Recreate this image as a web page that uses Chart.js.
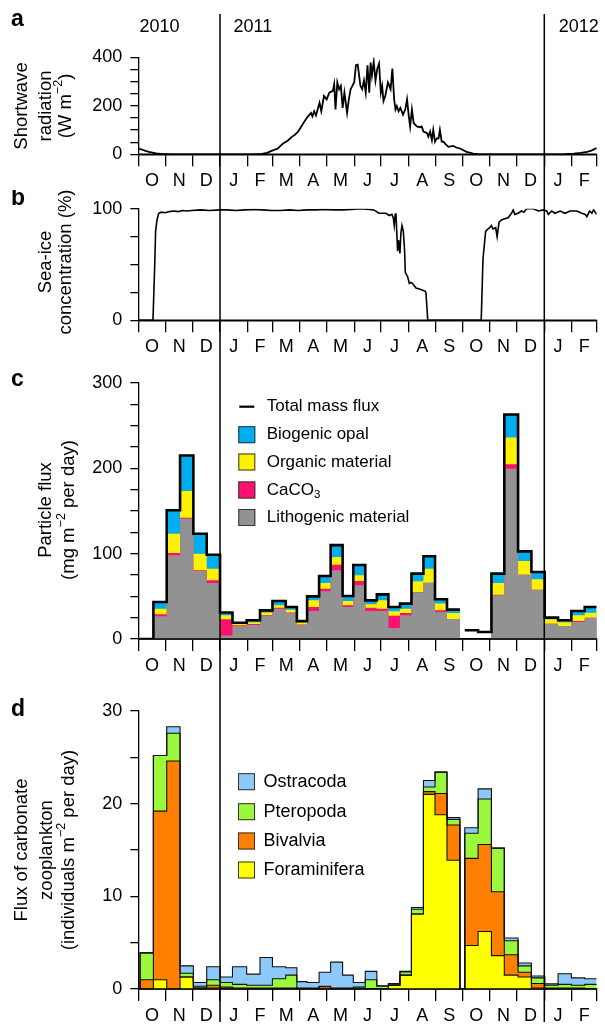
<!DOCTYPE html>
<html><head><meta charset="utf-8">
<script src="https://cdn.jsdelivr.net/npm/chart.js@4.4.1/dist/chart.umd.min.js"></script>
<style>
html,body{margin:0;padding:0;background:#fff;}
#fig{position:relative;width:605px;height:1031px;overflow:hidden;background:#fff;}
canvas{position:absolute;left:0;}
</style></head><body>
<div id="fig">
<canvas id="ca" width="605" height="190" style="top:0px;width:605px;height:190px"></canvas>
<canvas id="cb" width="605" height="170" style="top:190px;width:605px;height:170px"></canvas>
<canvas id="cc" width="605" height="320" style="top:360px;width:605px;height:320px"></canvas>
<canvas id="cd" width="605" height="351" style="top:680px;width:605px;height:351px"></canvas>
</div>
<script>
// ---------------- DATA (x = days since 1 Oct 2010) ----------------
const monthLabels = ['O','N','D','J','F','M','A','M','J','J','A','S','O','N','D','J','F'];
const monthStarts = [0,31,61,92,123,151,182,212,243,273,304,335,365,396,426,457,488,516];
const yearLabels = ['2010','2011','2012'];
const yearLineDays = [92, 457];

const swTicks = [0,50,100,150,200,250,300,350,400];
const swTickLabels = [0,200,400];
const iceTicks = [0,25,50,75,100];
const iceTickLabels = [0,100];
const fluxTicks = [0,25,50,75,100,125,150,175,200,225,250,275,300];
const fluxTickLabels = [0,100,200,300];
const zooTicks = [0,5,10,15,20,25,30];
const zooTickLabels = [0,10,20,30];

// Shortwave radiation (W m-2)
const swDay = [0,2,5,8,12,16,20,25,31,40,130,139,145,150,157,163,168,170,172,176,180,183,187,191,194.5,196,198,200,204,206,209,212,215,219,220.5,222,224,226,228,230,232,235,237,239,243,245,247,250,252,254,256,258,260,261.5,263,265,267,269,271,273,274.5,276,278,281,284,286,288,289.5,291,293,295,298,300.5,302.5,304.5,306,308,310,313.5,317,319,321,325,326.5,328.5,330.5,332,334,336,338,339.5,341.5,343.5,345,349,354.5,358,362,366,369.5,377,384,470,480,490,498,505,510,516];
const swVal = [25,22,18,14,10,7,4,2,1,0,0,2,6,14,24,45,56,62,70,80,94,112,136,157,171,157,178,160,213,178,241,227,255,262,290,185,297,269,283,192,255,171,227,269,297,368,370,283,269,305,255,368,255,379,326,382,305,354,375,255,283,220,241,297,269,354,227,185,199,178,192,164,185,227,157,115,185,129,115,112,115,94,87,73,94,59,101,52,66,66,101,52,52,45,31,35,28,24,17,10,3,0,0,1,3,6,10,15,26];

// Sea-ice concentration (%)
const iceDay = [0,16.5,18.5,19.5,21,23,26,30,35,40,45,50,55,60,70,80,92,100,110,120,130,140,150,160,170,180,190,200,210,220,230,240,250,260,265,271,278.7,282.4,285.4,287,288.1,289.2,290,290.7,291.9,293,294.5,295.6,296.8,298.3,299.8,300.5,303.2,305.1,306.9,308.8,312.6,316.4,320.1,323.2,323.9,325.8,386,388,391,393.7,395.6,397.4,399.3,402.3,403.9,406.1,408.8,412.5,416.3,420.1,422,423.8,427.6,431.4,434,437,444.6,450.3,455.9,459.7,461.6,465.4,469.1,474.8,480.4,486,493.6,499.3,503.1,504.9,508,510.6,512.5,516];
const iceVal = [0,0,50,80,90,96,97,96.5,97.5,98,97.5,98.5,98,98.5,99,98.5,99,99,98.5,99,99.5,99,98.5,98.5,99,98.5,99,99,99.5,99,99,99.5,100,99.5,99,96,96,94,95,92,85,95,96,83,62,72,60,78,85,80,62,43,39,33,34,33,29,28,27,26,24,0,0,55,80,82,83,85,82,83,75,88,90,91,92,96,99,95,96,98,97,100,100,98,99,98,95,98,96,98,96,98,98,96,95,93,98,96,99,95];

// Sediment-trap sampling periods (days)
const periodStart = [2,17,32,47,62,77,92,106,122,137,151,166,178.5,190,203.5,216.5,230,242,255.5,268.5,281.5,294.5,307.5,321,334,347.5,367.5,382.5,397.5,412,427.5,442.5,457.5,472.5,487.5,502.5];
const periodEnd   = [17,32,47,62,77,92,106,122,137,151,166,178.5,190,203.5,216.5,230,242,255.5,268.5,281.5,294.5,307.5,321,334,347.5,362,382.5,397.5,412,427.5,442.5,457.5,472.5,487.5,502.5,516];

// Particle flux (mg m-2 per day)
const totalFlux  = [0,43.4,150.8,215,123.4,98.8,31,19,22,33.6,44.5,37.5,21,50,73.8,110,50.4,86.7,45.3,52.3,37.5,41.4,76.6,96.9,46.5,34.4,10.2,8.2,76.6,263,102.7,78.5,25,21.9,32.8,37.5];
const lithogenic = [0,26.6,98,141,79.7,65.6,4,15.2,16.5,27,35.5,30.5,16.5,32.8,55.9,80.5,37.5,62.9,32.8,32.8,12.9,27.7,54.7,66,31.6,23.4,0,0,51.2,199.6,75.4,57.8,18,15.2,20,25];
const caco3      = [0,2.3,2.8,1,0.8,3.2,19,1,1.1,0.7,1.2,0.5,0.5,4.7,3.1,6.5,2,5.1,3.9,2.7,14.4,2.8,0.3,0,2,0,0,0,0.8,5.1,0,0,0,0,1,0];
const organic    = [0,6.6,22.6,31.4,19.5,13.6,4.7,2,1.9,3.3,2.8,3.4,2.5,7.8,6.6,9,5,6.6,3.9,10,5.1,5,12.6,16.4,8,7.1,0,0,13.6,31.3,16,12.2,5,4.3,6.7,5.9];
const opal       = [0,7.9,27.4,41.6,23.4,16.4,3.3,0.8,2.5,2.6,5,3.1,1.5,4.7,8.2,14,5.9,12.1,4.7,6.8,5.1,5.9,9,14.5,4.9,3.9,0,0,11,27,11.3,8.5,2,2.4,5.1,6.6];

// Carbonate zooplankton flux (individuals m-2 per day)
const foraminifera = [0,1.0,0,1.3,0.1,0.1,0,0,0,0,0,0,0,0,0,0,0,0,0,0,0.4,1.5,8.1,21.0,18.8,13.9,4.7,6.2,3.6,1.5,1.3,0.1,0,0,0,0];
const bivalvia     = [1.0,18.2,24.6,0,0,0.3,0.2,0.1,0.1,0.1,0.1,0.1,0,0,0.25,0,0,0,0.05,0,0,0,0,0.3,2.3,3.8,9.4,9.4,6.9,2.2,0.5,0.5,0.1,0.1,0.1,0];
const pteropoda    = [2.9,6.0,3.0,0.4,0.2,0.6,0.5,0.4,0.3,0.3,1.0,1.4,0.1,0.1,0.05,0.1,0.1,0.2,0.95,0.3,0.05,0.35,0.5,0.5,2.3,0.6,2.7,4.9,4.7,1.5,0.7,0.6,0.3,0.4,0.3,0.5];
const ostracoda    = [0,0,0.7,0.8,0.4,1.4,0.6,1.9,1.2,3.0,1.3,0.8,0.7,0.6,1.5,2.8,1.4,0.5,0.9,0.05,0.15,0.05,0.2,0.7,0,0.2,0.6,1.1,0,0.3,0.3,0.2,0.15,1.15,0.8,0.6];

// ---------------- HELPERS ----------------
const FAM = '"Liberation Sans", Arial, Helvetica, sans-serif';
Chart.defaults.font.family = FAM;
Chart.defaults.font.size = 18;
Chart.defaults.color = '#000';

const mids = monthStarts.slice(0,-1).map((v,i)=>(v+monthStarts[i+1])/2);
const boundarySet = new Set(monthStarts);

function cumulative(arrays){
  const out = []; let run = arrays[0].map(()=>0);
  arrays.forEach(a=>{ run = run.map((r,i)=>r+(a[i]||0)); out.push(run.slice()); });
  return out;
}
// stepped points; zeroGaps: drop to 0 at gaps, else break line
function stepPoints(vals, zeroGaps){
  const pts = [];
  for (let i=0;i<periodStart.length;i++){
    const v = vals[i];
    if (i===0 && zeroGaps) pts.push({x:periodStart[0], y:0});
    pts.push({x:periodStart[i], y:v});
    if (i===periodStart.length-1){ pts.push({x:periodEnd[i], y:v}); }
    else if (periodStart[i+1]!==periodEnd[i]){
      if (zeroGaps){ pts.push({x:periodEnd[i], y:0}); }
      else { pts.push({x:periodEnd[i], y:v}); pts.push({x:(periodEnd[i]+periodStart[i+1])/2, y:null}); }
    }
  }
  return pts;
}
function xScale(h){
  return {
    type:'linear', min:monthStarts[0], max:monthStarts[monthStarts.length-1], z:1,
    afterBuildTicks: s => { s.ticks = monthStarts.concat(mids).sort((a,b)=>a-b).map(v=>({value:v})); },
    afterFit: s => { s.height = h; },
    ticks:{ autoSkip:false, maxRotation:0, minRotation:0, padding:4, color:'#000', font:{size:18},
      callback: v => { const i = mids.indexOf(v); return i>=0 ? monthLabels[i] : ''; } },
    grid:{ drawOnChartArea:false, drawTicks:true, tickLength:12, lineWidth:1.3,
      color: c => (c.tick && boundarySet.has(c.tick.value)) ? '#000' : 'rgba(0,0,0,0)' },
    border:{ display:true, color:'#000', width:1.4 }
  };
}
function yScale(ticks, labels){
  return {
    type:'linear', min:ticks[0], max:ticks[ticks.length-1],
    afterBuildTicks: s => { s.ticks = ticks.map(v=>({value:v})); },
    afterFit: s => { s.width = 138.3; },
    ticks:{ autoSkip:false, padding:8, color:'#000', font:{size:18},
      callback: v => labels.includes(v) ? String(v) : '' },
    grid:{ drawOnChartArea:false, drawTicks:true, tickLength:8, lineWidth:1.3, color:'#000' },
    border:{ display:true, color:'#000', width:1.3 }
  };
}
function baseOptions(topPad, xH, ys){
  return {
    responsive:false, animation:false, events:[],
    layout:{ padding:{ left:0, right:8.3, top:topPad, bottom:0 } },
    scales:{ x:xScale(xH), y:ys },
    plugins:{ legend:{display:false}, tooltip:{enabled:false}, filler:{drawTime:'beforeDatasetsDraw'} },
    elements:{ point:{ radius:0 }, line:{ tension:0 } }
  };
}
function richWidth(ctx, parts, size){
  let w=0;
  for (const p of parts){ ctx.font = ((p.sup||p.sub)?size*0.68:size)+'px '+FAM; w += ctx.measureText(p.t).width; }
  return w;
}
function drawRich(ctx, parts, x, y, size, align){
  const w = richWidth(ctx, parts, size);
  let cx = align==='center' ? x - w/2 : x;
  ctx.textAlign='left'; ctx.textBaseline='middle'; ctx.fillStyle='#000';
  for (const p of parts){
    const s = (p.sup||p.sub)?size*0.68:size;
    ctx.font = s+'px '+FAM;
    const dy = p.sup ? -size*0.38 : (p.sub ? size*0.3 : 0);
    ctx.fillText(p.t, cx, y+dy);
    cx += ctx.measureText(p.t).width;
  }
}
function makeDecor(cfg){
  return {
    id:'decor',
    afterDraw(chart){
      const ctx = chart.ctx, xs = chart.scales.x, ysc = chart.scales.y;
      ctx.save();
      // re-draw baseline on top of the stacked fills
      ctx.strokeStyle='#000'; ctx.lineWidth=1.4;
      ctx.beginPath(); ctx.moveTo(chart.chartArea.left, ysc.getPixelForValue(0)); ctx.lineTo(chart.chartArea.right, ysc.getPixelForValue(0)); ctx.stroke();
      ctx.lineWidth=1.5;
      yearLineDays.forEach(d=>{
        const px = xs.getPixelForValue(d);
        ctx.beginPath();
        ctx.moveTo(px, Math.max(0, 14-cfg.top));
        ctx.lineTo(px, Math.min(chart.height, 1022-cfg.top));
        ctx.stroke();
      });
      ctx.fillStyle='#000';
      ctx.font='bold 23px '+FAM; ctx.textAlign='left'; ctx.textBaseline='middle';
      ctx.fillText(cfg.letter, 11, cfg.letterY);
      cfg.titles.forEach(t=>{
        ctx.save(); ctx.translate(t.x, cfg.titleY); ctx.rotate(-Math.PI/2);
        drawRich(ctx, t.parts, 0, 0, 18.5, 'center'); ctx.restore();
      });
      if (cfg.extra) cfg.extra(chart, ctx);
      ctx.restore();
    }
  };
}
function drawBoxLegend(ctx, items, x, textX, size, fontSize){
  items.forEach(it=>{
    if (it.line){
      ctx.strokeStyle='#000'; ctx.lineWidth=2.2;
      ctx.beginPath(); ctx.moveTo(x+1, it.y); ctx.lineTo(x+size-1, it.y); ctx.stroke();
    } else {
      ctx.fillStyle=it.color; ctx.fillRect(x, it.y-size/2, size, size);
      ctx.strokeStyle='#333'; ctx.lineWidth=1; ctx.strokeRect(x+0.5, it.y-size/2+0.5, size-1, size-1);
    }
    drawRich(ctx, it.parts, textX, it.y, fontSize, 'left');
  });
}

// ---------------- PANEL A ----------------
new Chart(document.getElementById('ca'), {
  type:'line',
  data:{ datasets:[{ data: swDay.map((d,i)=>({x:d,y:swVal[i]})), borderColor:'#000', borderWidth:1.8, fill:false }] },
  options: baseOptions(57.5, 190-154.3, yScale(swTicks, swTickLabels)),
  plugins:[ makeDecor({ top:0, letter:'a', letterY:20, titleY:106,
    titles:[ {x:21.5, parts:[{t:'Shortwave'}]}, {x:46, parts:[{t:'radiation'}]}, {x:66, parts:[{t:'(W m'},{t:'−2',sup:true},{t:')'}]} ],
    extra:(chart, ctx)=>{
      const xs = chart.scales.x;
      ctx.font='18px '+FAM; ctx.fillStyle='#000'; ctx.textBaseline='middle'; ctx.textAlign='left';
      ctx.fillText(yearLabels[0], xs.getPixelForValue(yearLineDays[0]) - 80.5, 27);
      ctx.fillText(yearLabels[1], xs.getPixelForValue(yearLineDays[0]) + 13.5, 27);
      ctx.fillText(yearLabels[2], xs.getPixelForValue(yearLineDays[1]) + 14.5, 27);
    } }) ]
});

// ---------------- PANEL B ----------------
new Chart(document.getElementById('cb'), {
  type:'line',
  data:{ datasets:[{ data: iceDay.map((d,i)=>({x:d,y:iceVal[i]})), borderColor:'#000', borderWidth:1.6, fill:false }] },
  options: baseOptions(14.3, 170-130.3, yScale(iceTicks, iceTickLabels)),
  plugins:[ makeDecor({ top:190, letter:'b', letterY:9, titleY:72,
    titles:[ {x:46, parts:[{t:'Sea-ice'}]}, {x:66, parts:[{t:'concentration (%)'}]} ] }) ]
});

// ---------------- PANEL C ----------------
const cumC = cumulative([lithogenic, caco3, organic, opal]);
const colC = ['#929292','#FF1170','#FFF200','#00AEEF'];
const dsC = [{ data: stepPoints(totalFlux, false), borderColor:'#000', borderWidth:2.6, stepped:true, fill:false, spanGaps:false }];
cumC.forEach((arr,i)=> dsC.push({ data: stepPoints(arr, true), stepped:true, borderWidth:0, borderColor:colC[i], backgroundColor:colC[i], fill:'origin' }));
new Chart(document.getElementById('cc'), {
  type:'line',
  data:{ datasets: dsC },
  options: baseOptions(23, 320-279, yScale(fluxTicks, fluxTickLabels)),
  plugins:[ makeDecor({ top:360, letter:'c', letterY:20, titleY:150,
    titles:[ {x:45.5, parts:[{t:'Particle flux'}]}, {x:68.5, parts:[{t:'(mg m'},{t:'−2',sup:true},{t:' per day)'}]} ],
    extra:(chart, ctx)=>{
      drawBoxLegend(ctx, [
        {line:true, y:46.7, parts:[{t:'Total mass flux'}]},
        {color:colC[3], y:74.7, parts:[{t:'Biogenic opal'}]},
        {color:colC[2], y:102, parts:[{t:'Organic material'}]},
        {color:colC[1], y:130, parts:[{t:'CaCO'},{t:'3',sub:true}]},
        {color:colC[0], y:157.5, parts:[{t:'Lithogenic material'}]}
      ], 238.3, 266.7, 17, 17);
    } }) ]
});

// ---------------- PANEL D ----------------
const cumD = cumulative([foraminifera, bivalvia, pteropoda, ostracoda]);
const colD = ['#FFFF00','#FF8000','#9CF83C','#8DC8FA'];
const dsD = cumD.map((arr,i)=>({ data: stepPoints(arr, true), stepped:true, borderWidth:1.1, borderColor:'#111', backgroundColor:colD[i], fill:'origin' }));
new Chart(document.getElementById('cd'), {
  type:'line',
  data:{ datasets: dsD },
  options: baseOptions(31, 351-309, yScale(zooTicks, zooTickLabels)),
  plugins:[ makeDecor({ top:680, letter:'d', letterY:30, titleY:170,
    titles:[ {x:22, parts:[{t:'Flux of carbonate'}]}, {x:46.5, parts:[{t:'zooplankton'}]}, {x:68.5, parts:[{t:'(individuals m'},{t:'−2',sup:true},{t:' per day)'}]} ],
    extra:(chart, ctx)=>{
      drawBoxLegend(ctx, [
        {color:colD[3], y:101.7, parts:[{t:'Ostracoda'}]},
        {color:colD[2], y:131.7, parts:[{t:'Pteropoda'}]},
        {color:colD[1], y:161, parts:[{t:'Bivalvia'}]},
        {color:colD[0], y:190, parts:[{t:'Foraminifera'}]}
      ], 238, 263.5, 17, 18);
    } }) ]
});
</script>
</body></html>
